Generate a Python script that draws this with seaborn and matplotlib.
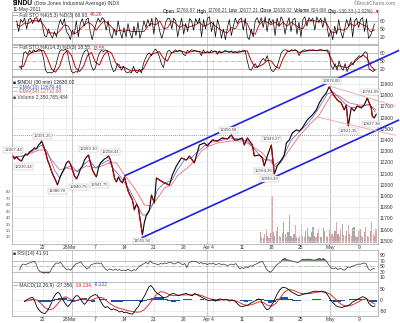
import numpy as np
import pandas as pd
import matplotlib
matplotlib.use("Agg")
import matplotlib.pyplot as plt
import seaborn as sns
from matplotlib.collections import LineCollection

# ---------------- data (x in trading days, 0 = 22 Feb 2011) ----------------
price_day = [-5.0,-4.77,-4.43,-3.92,-3.58,-3.24,-2.90,-2.56,-2.21,-1.70,
             -1.36,-1.02,-0.68,-0.34,-0.17,0.17,0.51,0.85,1.19,1.53,
             1.87,2.21,2.56,2.73,3.07,3.41,3.75,4.09,4.43,4.77,
             5.11,5.45,5.79,6.13,6.47,6.81,7.16,7.50,7.84,8.18,
             8.52,8.86,9.20,9.54,9.88,10.22,10.56,10.90,11.24,11.58,
             11.93,12.27,12.61,12.95,13.29,13.63,13.97,14.31,14.65,14.99,
             15.33,15.67,16.01,16.35,16.70,17.04,17.38,17.72,18.23,18.57,
             19.08,19.42,19.93,20.78,21.64,22.15,22.83,23.68,24.53,25.04,
             25.89,26.75,27.60,28.11,28.96,29.81,30.66,31.52,32.20,32.71,
             33.22,34.07,34.41,34.92,35.78,36.12,36.97,37.48,37.82,38.33,
             39.01,39.52,40.03,40.72,41.23,41.57,42.08,42.59,43.27,43.78,
             44.29,45.14,46.00,46.68,47.19,47.70,48.38,48.89,49.23,49.74,
             50.26,50.94,51.45,51.79,52.13,52.64,53.15,53.66,54.34,54.86,
             55.37,56.05,56.22,56.56,56.90]
price_close = [12257,12230,12248,12221,12212,12248,12275,12266,12293,12311,
               12329,12320,12355,12373,12391,12346,12293,12221,12177,12123,
               12079,12043,11998,12025,12079,12114,12150,12195,12212,12186,
               12132,12079,12052,12088,12141,12168,12221,12248,12266,12195,
               12132,12096,12070,12150,12195,12212,12230,12239,12257,12221,
               12150,12061,12025,12070,12034,12016,12070,11998,11936,11900,
               11864,11775,11829,11793,11668,11552,11668,11730,11775,11909,
               11837,12061,12043,12016,11998,12088,12168,12239,12221,12257,
               12195,12355,12373,12346,12400,12391,12418,12409,12445,12400,
               12400,12418,12355,12418,12355,12257,12266,12239,12168,12257,
               12355,12096,12168,12221,12266,12373,12400,12462,12489,12480,
               12507,12579,12623,12668,12730,12775,12820,12876,12838,12793,
               12757,12730,12668,12712,12525,12686,12659,12704,12686,12712,
               12775,12686,12614,12596,12630]

ema10_day = [-5.0,-3.07,-1.36,-0.17,0.85,2.04,2.90,3.92,4.94,5.96,7.16,8.01,9.03,10.05,
             11.24,12.27,13.46,14.82,16.01,17.04,17.89,18.74,19.59,20.78,21.98,23.00,
             24.19,25.38,26.41,27.60,28.79,30.15,31.86,33.56,34.92,35.95,36.97,37.99,
             39.01,39.69,40.72,41.57,42.42,43.78,45.14,46.34,47.53,48.55,49.57,50.60,
             51.62,52.64,53.66,54.86,55.71,56.73]
ema10 = [12248,12257,12311,12355,12293,12132,12061,12150,12168,12114,12186,12221,12150,12186,
         12221,12132,12061,11954,11837,11730,11730,11820,11954,12016,12034,12132,
         12221,12239,12293,12346,12382,12391,12418,12409,12391,12329,12266,12221,
         12221,12159,12204,12311,12400,12471,12543,12623,12721,12811,12829,12775,
         12721,12686,12695,12704,12721,12650]

ema34_day = [-5.0,-2.73,-0.51,0.34,1.70,2.90,4.09,5.79,7.50,9.20,11.41,12.61,13.97,15.67,
             17.38,18.57,19.42,20.78,21.98,23.00,24.70,25.89,27.09,28.45,29.81,32.20,
             34.41,36.12,37.48,38.16,39.52,40.89,42.08,43.78,45.49,47.19,48.38,49.23,
             50.60,52.30,54.00,55.71,56.90]
ema34 = [12239,12266,12311,12311,12212,12132,12150,12123,12168,12150,12195,12195,12088,11971,
         11820,11811,11864,11971,11998,12079,12150,12212,12302,12346,12373,12391,
         12391,12329,12284,12239,12177,12221,12311,12436,12534,12623,12730,12802,
         12793,12730,12712,12712,12668]

vol_start_day = 37
vol_heights = [18,10,8,14, 22,12,9,16, 74,18,12,20, 26,12,10,16, 34,14,10,18,
               44,12,9,15, 28,10,8,12, 30,12,10,20, 24,12,10,18, 26,12,10,16,
               22,10,10,24, 20,12,10,22, 60,14,12,20, 34,14,12,22, 30,13,11,20,
               28,14,12,24, 26,12,10,20, 22,12,10,18, 25,12,10,20, 33,14,12,22]
vol_up = [1,0,1,0, 0,1,0,1, 0,1,1,0, 1,0,1,1, 1,1,0,1, 1,1,0,1, 0,1,1,0,
          1,1,0,1, 1,0,1,1, 1,1,0,1, 0,1,1,1, 1,0,1,0, 1,0,0,1, 0,1,0,0,
          1,0,0,1, 0,1,0,1, 1,0,1,0, 1,0,1,1, 0,1,0,1, 0,0,1,0]

sto5_k = [80,40,85,75,90,50,85,90,70,88,92,75,90,60,25,20,50,30,15,40,20,60,85,65,88,40,
          30,10,45,30,80,20,70,88,60,85,90,40,10,45,70,90,75,92,85,45,80,30,15,50,25,80,
          40,15,55,20,70,35,15,60,25,75,15,40,80,55,85,60,90,30,92,80,40,15,40,75,90,88,
          50,90,80,20,60,90,30,70,40,88,80,45,88,70,
          90,20,85,50,90,95,40,75,20,85,60,15,50,10,55,85,25,60,90,70,85,90,45,90,20,10,
          50,20,80,92,70,92,55,95,40,90,70,85,25,90,60,95,80,30,70,92,40,85,90,30,75,20,
          85,95,60,92,80,90,45,95,75,90,55,92,65,20,45,10,60,30,85,40,15,50,85,60,92,20,
          80,90,55,85,92,40,88,15,25,45,69]
sto5_d = [65,60,72,70,82,80,80,60,35,35,30,45,65,60,30,35,50,65,75,65,45,65,80,70,55,40,
          45,40,45,40,40,40,40,60,70,65,80,50,55,80,70,55,65,55,60,65,
          75,60,65,75,60,50,40,35,55,50,75,80,70,35,30,65,80,75,65,75,60,75,60,75,65,55,
          50,80,80,80,75,80,70,40,35,50,45,50,70,60,75,65,60,40,46]

sto14_k = [28,20,80,85,75,90,80,92,85,90,95,88,60,15,5,8,5,10,30,60,85,92,90,95,80,40,
           10,5,10,8,30,60,80,90,92,60,30,15,25,60,80,90,85,92,88,60,30,10,15,40,35,15,
           30,10,5,10,5,30,10,5,20,5,40,60,75,80,70,85,95,85,65,40,25,60,85,90,80,85,
           92,85,90,88,75,70,90,85,92,90,88,85,
           85,70,92,80,85,80,90,85,88,75,88,80,85,90,85,82,88,80,85,80,88,85,90,88,50,20,
           15,30,40,25,35,50,60,50,70,40,15,10,20,30,55,80,90,92,90,85,92,90,92,88,70,85,
           90,92,88,92,90,92,90,88,92,92,90,88,92,85,30,20,40,15,50,25,15,40,10,30,45,35,
           55,60,70,65,75,85,80,20,15,10,19]
sto14_d = [30,30,70,82,86,88,90,60,20,8,30,75,90,70,25,10,30,70,82,45,35,70,88,80,45,25,
           28,20,12,15,12,20,50,75,80,85,60,50,80,85,88,85,80,85,88,
           86,80,84,82,86,82,84,86,84,84,83,86,88,50,25,30,38,52,50,30,22,60,85,88,90,82,
           85,88,90,89,90,90,88,60,28,32,28,25,35,48,62,72,60,30,14]

rsi = [36,55,58,55,60,62,65,68,60,40,30,28,25,27,25,30,45,55,62,60,65,55,45,38,40,35,
       45,55,60,62,66,55,48,40,45,55,58,60,62,60,62,50,40,35,40,38,35,40,35,38,34,36,
       33,40,35,32,38,35,45,52,55,60,64,58,70,62,60,58,55,60,58,62,60,63,65,60,58,62,
       65,60,55,60,45,62,66,68,
       68,65,60,64,58,62,55,60,58,62,55,58,60,55,58,55,52,55,58,55,60,50,40,45,42,48,
       45,52,50,55,58,62,65,68,55,40,32,28,35,45,55,60,65,75,78,74,72,70,68,66,64,65,
       72,75,74,76,75,74,72,73,76,78,75,78,72,62,50,42,40,45,38,42,40,35,40,48,45,50,
       52,55,58,57,60,62,58,40,35,40,42]

macd = [-8,0,5,10,12,-5,-30,-45,-55,-60,-62,-50,-35,-15,10,25,35,30,10,-5,-20,-30,-20,-5,
        10,20,18,5,-10,-20,-10,5,15,20,25,22,10,-10,-25,-35,-30,-38,-45,-40,-45,-48,-55,-50,
        -58,-55,-60,-62,-65,-55,-40,-30,-10,5,20,40,60,66,55,40,30,25,18,10,12,15,22,28,
        30,25,20,22,25,28,30,25,22,20,
        30,25,20,15,10,5,0,-3,0,2,-5,0,5,3,0,2,0,-5,0,-2,-10,-20,-28,-30,-28,-25,-22,-15,
        -10,-5,0,5,0,-20,-35,-45,-40,-25,-10,10,30,45,55,58,55,50,42,35,30,25,20,22,25,28,
        30,32,35,38,40,40,38,40,38,35,25,10,-5,-15,-25,-30,-32,-35,-30,-28,-25,-20,-10,-5,
        0,5,10,15,12,5,-15,-25,-30,-27]
macd_signal = [-5,-3,2,0,-15,-35,-45,-40,-20,5,15,5,-8,0,8,0,-3,5,12,10,-5,-20,-30,-38,-42,
               -48,-52,-55,-55,-45,-25,0,25,38,35,25,20,22,23,23,24,
               24,25,20,12,5,2,0,1,1,0,-3,-10,-20,-25,-22,-15,-8,-12,-25,-28,-15,10,35,48,
               45,38,30,28,29,32,36,38,36,28,12,-8,-22,-28,-26,-18,-8,2,5,-8,-19]
macd_hist = [0,2,3,-2,-8,-10,-8,-5,5,10,8,-5,-10,-5,5,8,-3,-8,0,5,4,2,-8,-10,-8,-6,-5,-6,
             -5,-8,-5,3,10,14,12,5,-5,-8,-4,2,4,3,2,1,
             3,1,-2,-4,-3,-1,2,1,-1,0,-4,-8,-6,-2,3,5,-5,-12,-8,6,14,12,6,-3,-4,-2,0,2,
             4,4,2,0,-6,-10,-8,-4,2,5,6,6,5,2,-8,-8]

# annotated pivots (text, day, price)
pivot_text = ["12267.44","12230.34","12391.25","11980.70","12283.10","12040.79","12258.41",
              "12041.75","11555.94","12450.58","12349.27","12164.26","12093.39","12876.00",
              "12781.09","12521.35","12627.38"]
pivot_day = [-5.0,-3.24,0.0,2.56,7.84,6.13,11.58,9.71,17.04,31.7,39.01,37.65,38.67,49.23,
             55.88,52.13,56.05]
pivot_price = [12311,12159,12436,11945,12320,11980,12293,11998,11498,12489,12409,12123,
               12052,12927,12829,12480,12543]

# trend lines (day, price pairs)
chan_upper = ([13.97, 60.8], [12079, 13200])
chan_lower = ([16.87, 60.8], [11525, 12579])
pink_upper = ([48.89, 60.3], [12882, 12700])
pink_lower = ([46.85, 60.3], [12605, 12440])
prior_high = 12445

week_days = [0, 4, 9, 14, 19, 24, 29, 34, 39, 44, 49, 54]
month_days = [5, 28, 49]
tick_pos = [0, 4, 5, 9, 14, 19, 24, 28, 29, 34, 39, 44, 49, 54]
tick_lab = ["22", "28", "Mar", "7", "14", "21", "28", "Apr", "4", "11", "18", "25", "May", "9"]

# ---------------- figure ----------------
sns.set_theme(style="white")
plt.rcParams["font.family"] = ["Liberation Sans", "DejaVu Sans"]

W, H = 400, 323
fig = plt.figure(figsize=(W / 100, H / 100), dpi=100)
fig.patch.set_facecolor("white")
renderer = fig.canvas.get_renderer()


def rect(top, bottom, left=12, right=378):
    return [left / W, 1 - bottom / H, (right - left) / W, (bottom - top) / H]


XL = (-5.2, 57.2)
GRID = "#e4e4e4"
MONTH = "#b5b5b5"
EDGE = "#a0a0a0"
FS = 3.6


def style(ax, ylim, yticks):
    ax.set_xlim(*XL)
    ax.set_ylim(*ylim)
    ax.set_facecolor("white")
    ax.yaxis.tick_right()
    ax.set_yticks(yticks)
    ax.set_yticklabels([str(t) for t in yticks])
    ax.tick_params(axis="y", length=0, pad=1.5, labelsize=FS, colors="#333333")
    ax.set_xticks(tick_pos)
    ax.set_xticklabels([])
    ax.tick_params(axis="x", length=0)
    ax.set_xlabel("")
    ax.set_ylabel("")
    for s in ax.spines.values():
        s.set_color(EDGE)
        s.set_linewidth(0.5)
    for d in week_days:
        ax.axvline(d, color=GRID, lw=0.4, zorder=0)
    for d in month_days:
        ax.axvline(d, color=MONTH, lw=0.5, zorder=0)


def ftext(x, y, pieces, fs=FS, **kw):
    """Draw consecutive coloured text pieces starting at pixel (x, y)."""
    if isinstance(pieces, str):
        pieces = [(pieces, kw.pop("color", "#333333"))]
    for s, c in pieces:
        t = fig.text(x / W, 1 - y / H, s, fontsize=fs, color=c, va="center", **kw)
        bb = t.get_window_extent(renderer=renderer)
        x = x + bb.width + 1.0
    return x


def osc_line(ax, x0, x1, vals, color, lw):
    xs = np.linspace(x0, x1, len(vals))
    sns.lineplot(x=xs, y=vals, ax=ax, color=color, lw=lw, estimator=None)
    return xs

# ---- panel 1: Full STO 5,3
ax1 = fig.add_axes(rect(12, 44))
style(ax1, (-6.4, 113), [80, 50, 20])
for v, ls in ((80, "-"), (20, "-"), (50, "-.")):
    ax1.axhline(v, color="#9a9a9a", lw=0.45, ls=ls, zorder=1)
osc_line(ax1, -4.4, 56.6, sto5_d, "#cc0000", 0.6)
osc_line(ax1, -4.4, 56.6, sto5_k, "black", 0.5)

# ---- panel 2: Full STO 14,3
ax2 = fig.add_axes(rect(45, 76))
style(ax2, (-6.4, 110), [80, 50, 20])
for v, ls in ((80, "-"), (20, "-"), (50, "-.")):
    ax2.axhline(v, color="#9a9a9a", lw=0.45, ls=ls, zorder=1)
osc_line(ax2, -3.9, 56.7, sto14_d, "#cc0000", 0.7)
osc_line(ax2, -3.9, 56.7, sto14_k, "black", 0.5)

# ---- main price panel
ax3 = fig.add_axes(rect(77, 244))
axv = ax3.twinx()
style(ax3, (11471, 12962), list(range(11500, 12901, 100)))
for v in range(11500, 12901, 100):
    ax3.axhline(v, color=GRID, lw=0.4, zorder=0)
ax3.set_xticklabels(tick_lab)
ax3.tick_params(axis="x", labelsize=FS, pad=0.8, colors="#333333")

axv.set_ylim(-1, 259)
axv.set_xlim(*XL)
axv.set_yticks([10, 20, 30, 40, 50, 60, 70, 80])
axv.set_yticklabels(["10", "20", "30", "40", "50", "60", "70", "80"])
axv.yaxis.tick_left()
axv.tick_params(axis="y", length=0, pad=0.8, labelsize=3.2, colors="#555555")
axv.set_ylabel("")
for s in axv.spines.values():
    s.set_visible(False)
vx = [vol_start_day + i * 0.25 + 0.12 for i in range(len(vol_heights))]
vcol = ["#a9a9a9" if u else "#f0a0a0" for u in vol_up]
axv.bar(vx, vol_heights, width=0.2, color=vcol, linewidth=0)
ax3.set_zorder(axv.get_zorder() + 1)
ax3.patch.set_visible(False)

ax3.axhline(prior_high, color="#777777", lw=0.5, ls=(0, (1.5, 1.5)), zorder=1)
sns.lineplot(x=ema34_day, y=ema34, ax=ax3, color="#f06a6a", lw=0.6, estimator=None)
sns.lineplot(x=ema10_day, y=ema10, ax=ax3, color="#4a5fd0", lw=0.5, estimator=None)
sns.lineplot(x=price_day, y=price_close, ax=ax3, color="black", lw=0.8, estimator=None)
segs = [[(price_day[i], price_close[i]), (price_day[i + 1], price_close[i + 1])]
        for i in range(len(price_day) - 1) if price_close[i + 1] < price_close[i]]
ax3.add_collection(LineCollection(segs, colors="#d00000", linewidths=0.8, zorder=3))
ax3.set_ylabel("")

for (xs, ys), c, lw in ((chan_upper, "#1f1fe0", 1.2), (chan_lower, "#1f1fe0", 1.2),
                        (pink_upper, "#f4a3a3", 0.6), (pink_lower, "#f4a3a3", 0.6)):
    ax3.plot(xs, ys, color=c, lw=lw, clip_on=False, zorder=5, solid_capstyle="butt")

for s, d, p in zip(pivot_text, pivot_day, pivot_price):
    ax3.text(d, p, s, fontsize=3.1, ha="center", va="center", color="#444444", zorder=6,
             clip_on=False,
             bbox=dict(boxstyle="square,pad=0.2", fc="white", ec="#b0b0b0", lw=0.3))

# ---- RSI panel
ax4 = fig.add_axes(rect(250, 282))
style(ax4, (-7.3, 109), [90, 70, 50, 30, 10])
for v, ls in ((70, "-"), (30, "-"), (50, "-.")):
    ax4.axhline(v, color="#9a9a9a", lw=0.45, ls=ls, zorder=1)
rx = osc_line(ax4, -3.9, 56.6, rsi, "#333333", 0.5)
ra = np.array(rsi, dtype=float)
ax4.fill_between(rx, ra, 70, where=ra > 70, interpolate=True, color="#4f7f4f", lw=0)
ax4.fill_between(rx, ra, 30, where=ra < 30, interpolate=True, color="#c03030", lw=0)

# ---- MACD panel
ax5 = fig.add_axes(rect(282, 316))
style(ax5, (-73, 82), [50, 0, -50])
for v in (50, 0, -50):
    ax5.axhline(v, color=GRID, lw=0.4, zorder=0)
hx = np.linspace(-3.1, 56.7, len(macd_hist))
ax5.bar(hx, macd_hist, width=0.72, color="#1f4f9f", linewidth=0, zorder=2)
osc_line(ax5, -3.1, 56.7, macd_signal, "#e03030", 0.7)
osc_line(ax5, -3.1, 56.7, macd, "black", 0.6)
ax5.set_xticklabels(tick_lab)
ax5.tick_params(axis="x", labelsize=FS, pad=0.8, colors="#333333")

# ---------------- texts ----------------
ftext(13, 4, [("$INDU", "black")], fs=4.8, fontweight="bold")
ftext(34, 4, [("(Dow Jones Industrial Average) INDX", "#333333")], fs=3.7)
ftext(13, 10, [("11-May-2011", "#333333")], fs=3.6)
fig.text(396 / W, 1 - 3.5 / H, "\u00a9StockCharts.com", fontsize=3.6, color="#777777",
         ha="right", va="center")
ftext(163, 11, [("Open", "black"), ("12760.87", "#444444"), ("High", "black"),
                ("12768.21", "#444444"), ("Low", "black"), ("12677.21", "#444444"),
                ("Close", "black"), ("12630.02", "#444444"), ("Volume", "black"),
                ("824.6M", "#444444"), ("Chg", "black"), ("-130.33 (-1.02%)", "#444444"),
                ("\u25bc", "#d00000")], fs=3.4)

ftext(13, 15, [("\u2014 Full STO %K(5,3) %D(3) 68.93,", "#333333"), ("46.26", "#e02020")])
ftext(13, 48, [("\u2014 Full STO %K(14,3) %D(3) 18.55,", "#333333"), ("13.55", "#e02020")])

ftext(13, 82, [("\u25a0 $INDU (30 min) 12630.02", "#222222")])
ftext(13, 87, [("\u2014 EMA(10) 12679.46", "#3a4fc0")])
ftext(13, 92, [("\u2014 EMA(34) 12710.68", "#e05050")])
ftext(13, 97, [("\u25a0 Volume 2,350,765,484", "#444444")])

ftext(13, 253, [("\u25a0 RSI(14) 41.91", "#333333")])
ftext(13, 285, [("\u2014 MACD(12,26,9) -27.356,", "#333333"), ("-19.134,", "#e02020"),
                ("-8.222", "#3050c0")])

fig.savefig("out.png", dpi=100, facecolor="white")
